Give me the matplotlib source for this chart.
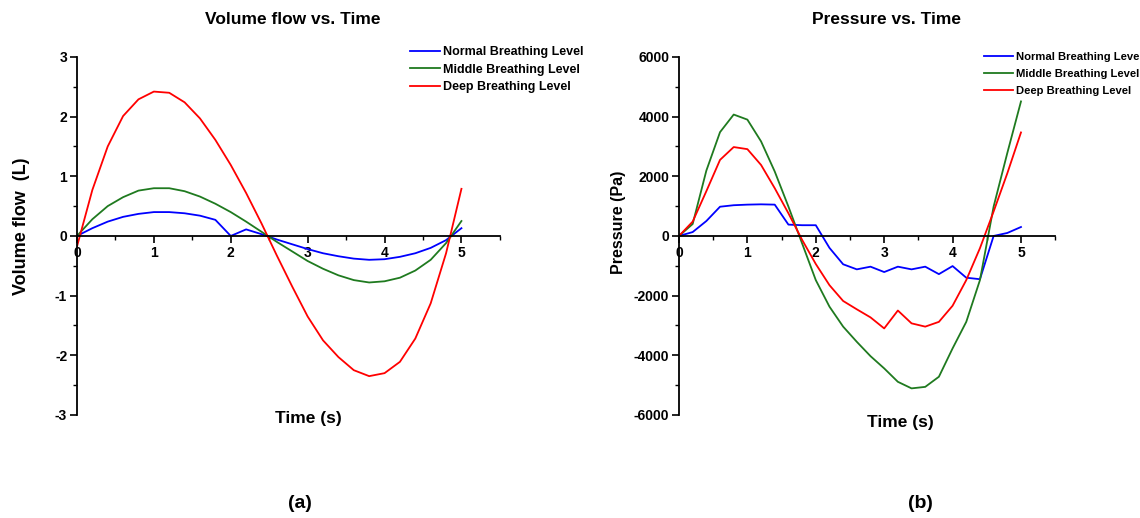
import matplotlib
matplotlib.use("Agg")
import matplotlib.pyplot as plt
from matplotlib.ticker import MultipleLocator

plt.rcParams['font.family'] = ['Liberation Sans', 'DejaVu Sans']
plt.rcParams['font.weight'] = 'bold'
plt.rcParams['axes.unicode_minus'] = False

# tiempo (s), cada 0.2 s
tiempo = [0.0, 0.2, 0.4, 0.6, 0.8, 1.0, 1.2, 1.4, 1.6, 1.8, 2.0, 2.2, 2.4,
          2.6, 2.8, 3.0, 3.2, 3.4, 3.6, 3.8, 4.0, 4.2, 4.4, 4.6, 4.8, 5.0]

# (a) Volume flow (L)
flujo_normal = [0.0, 0.13, 0.24, 0.32, 0.37, 0.40, 0.40, 0.38, 0.34, 0.27, 0.0, 0.11, 0.03,
                -0.06, -0.14, -0.22, -0.29, -0.34, -0.38, -0.40, -0.39, -0.35, -0.29, -0.20, -0.07, 0.13]
flujo_medio = [0.0, 0.28, 0.50, 0.65, 0.76, 0.80, 0.80, 0.75, 0.66, 0.54, 0.40, 0.24, 0.07,
               -0.10, -0.26, -0.42, -0.55, -0.66, -0.74, -0.78, -0.76, -0.70, -0.58, -0.40, -0.12, 0.25]
flujo_profundo = [-0.18, 0.77, 1.50, 2.01, 2.29, 2.42, 2.40, 2.24, 1.97, 1.61, 1.19, 0.72, 0.21,
                  -0.33, -0.85, -1.35, -1.75, -2.03, -2.25, -2.35, -2.30, -2.11, -1.72, -1.13, -0.29, 0.79]

# (b) Pressure (Pa)
presion_normal = [0, 130, 500, 980, 1030, 1050, 1060, 1050, 380, 360, 360, -400, -950,
                  -1120, -1030, -1210, -1030, -1120, -1030, -1280, -1010, -1400, -1450, 0, 100, 300]
presion_media = [0, 400, 2190, 3480, 4070, 3900, 3170, 2160, 985, -250, -1480, -2370, -3040,
                 -3550, -4030, -4440, -4890, -5110, -5060, -4720, -3770, -2880, -1480, 985, 2780, 4510]
presion_profunda = [0, 480, 1500, 2550, 2980, 2910, 2380, 1600, 760, -130, -940, -1650, -2180,
                    -2460, -2730, -3100, -2500, -2930, -3040, -2880, -2340, -1480, -410, 820, 2100, 3470]

etiquetas = ['Normal Breathing Level', 'Middle Breathing Level', 'Deep Breathing Level']
colores = ['#0000ff', '#1f7a1f', '#ff0000']

fig = plt.figure(figsize=(11.4, 5.18), dpi=100)
ax1 = fig.add_axes([0.0675, 0.199, 0.371, 0.691])
ax2 = fig.add_axes([0.5956, 0.199, 0.330, 0.691])


def estilo(ax, ymax, paso_y, menor_y):
    ax.set_xlim(0, 5.5)
    ax.set_ylim(-ymax, ymax)
    ax.spines['top'].set_visible(False)
    ax.spines['right'].set_visible(False)
    ax.spines['bottom'].set_position(('data', 0))
    for s in ('left', 'bottom'):
        ax.spines[s].set_linewidth(1.3)
    ax.xaxis.set_major_locator(MultipleLocator(1))
    ax.xaxis.set_minor_locator(MultipleLocator(0.5))
    ax.yaxis.set_major_locator(MultipleLocator(paso_y))
    ax.yaxis.set_minor_locator(MultipleLocator(menor_y))
    ax.tick_params(which='major', length=5, width=1.2, labelsize=10, pad=2)
    ax.tick_params(which='minor', length=3, width=1.0)
    for lab in ax.get_xticklabels() + ax.get_yticklabels():
        lab.set_fontweight('bold')


for ax, series in ((ax1, (flujo_normal, flujo_medio, flujo_profundo)),
                   (ax2, (presion_normal, presion_media, presion_profunda))):
    for y, c, lab in zip(series, colores, etiquetas):
        ax.plot(tiempo, y, color=c, lw=1.3, label=lab)

estilo(ax1, 3, 1, 0.5)
estilo(ax2, 6000, 2000, 1000)
ax1.set_xticks([0, 1, 2, 3, 4, 5])
ax2.set_xticks([0, 1, 2, 3, 4, 5])

ley = dict(frameon=False, handletextpad=0.25, borderaxespad=0, borderpad=0,
           bbox_transform=fig.transFigure, loc='upper left')
ax1.legend(bbox_to_anchor=(410 / 1140, 1 - 46 / 518), fontsize=9, handlelength=2.4,
           labelspacing=0.45, **ley)
ax2.legend(bbox_to_anchor=(984 / 1140, 1 - 52 / 518), fontsize=8.1, handlelength=2.6,
           labelspacing=0.62, **ley)

# títulos y etiquetas
fig.text(293 / 1140, 1 - 20 / 518, 'Volume flow vs. Time', ha='center', va='center', fontsize=12.5, fontweight='bold')
fig.text(887 / 1140, 1 - 20 / 518, 'Pressure vs. Time', ha='center', va='center', fontsize=12.5, fontweight='bold')
fig.text(308 / 1140, 1 - 418 / 518, 'Time (s)', ha='center', va='center', fontsize=12.5, fontweight='bold')
fig.text(900 / 1140, 1 - 423 / 518, 'Time (s)', ha='center', va='center', fontsize=12.5, fontweight='bold')
fig.text(22 / 1140, 1 - 226 / 518, 'Volume flow  (L)', ha='center', va='center', rotation=90,
         fontsize=13, fontweight='bold')
fig.text(618 / 1140, 1 - 222 / 518, 'Pressure (Pa)', ha='center', va='center', rotation=90,
         fontsize=11.5, fontweight='bold')
fig.text(300 / 1140, 1 - 503 / 518, '(a)', ha='center', va='center', fontsize=14, fontweight='bold')
fig.text(920 / 1140, 1 - 503 / 518, '(b)', ha='center', va='center', fontsize=14, fontweight='bold')

plt.savefig('out.png', dpi=100)
